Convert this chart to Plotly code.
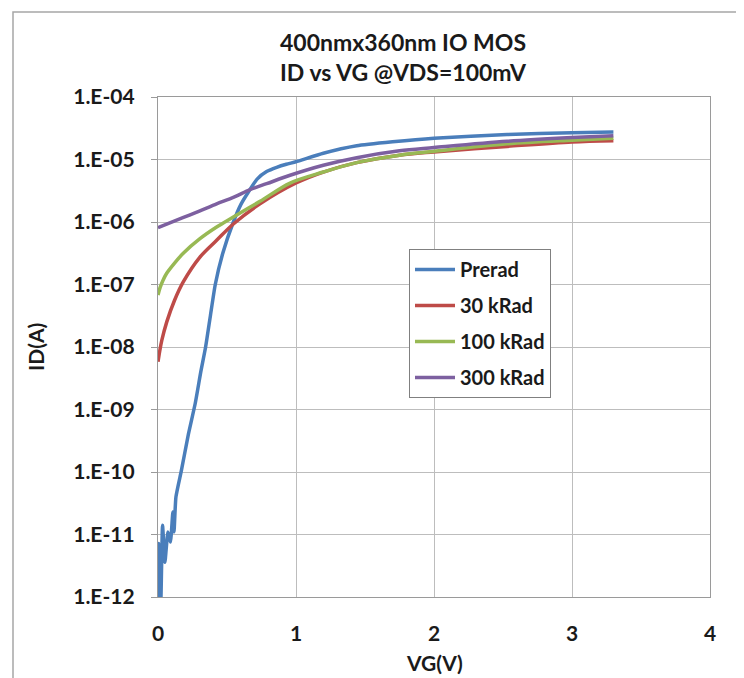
import plotly.graph_objects as go

# ---- data (VG in volts, ID in amps) ----
vg_prerad = [0.0, 0.005, 0.02, 0.033, 0.05, 0.072, 0.09, 0.108, 0.116, 0.13, 0.17, 0.22, 0.27,
             0.31, 0.345, 0.38, 0.415, 0.47, 0.546, 0.6, 0.654, 0.72, 0.787, 0.86, 0.93, 1.0,
             1.198, 1.44, 1.7, 2.0, 2.53, 3.0, 3.3]
id_prerad = [1.0e-12, 7.2e-12, 8.0e-13, 1.4e-11, 3.6e-12, 1.1e-11, 7.6e-12, 2.3e-11, 1.1e-11,
             4.0e-11, 1.07e-10, 4.0e-10, 1.26e-09, 4.0e-09, 1.0e-08, 3.2e-08, 1.0e-07, 3.2e-07,
             1.0e-06, 1.9e-06, 3.0e-06, 4.9e-06, 6.4e-06, 7.5e-06, 8.4e-06, 9.2e-06, 1.26e-05,
             1.66e-05, 1.92e-05, 2.19e-05, 2.51e-05, 2.69e-05, 2.75e-05]

vg_30k = [0.0, 0.012, 0.027, 0.063, 0.12, 0.183, 0.304, 0.425, 0.546, 0.739, 1.0, 1.198, 1.44,
          1.75, 2.0, 2.53, 3.0, 3.3]
id_30k = [5.8e-09, 8.5e-09, 1.26e-08, 2.5e-08, 5.6e-08, 1.1e-07, 2.75e-07, 5.1e-07, 9.3e-07,
          1.95e-06, 4.2e-06, 6.3e-06, 8.9e-06, 1.17e-05, 1.32e-05, 1.62e-05, 1.91e-05, 2.0e-05]

vg_100k = [0.0, 0.015, 0.035, 0.063, 0.12, 0.183, 0.304, 0.425, 0.546, 0.739, 0.957, 1.198,
           1.44, 1.75, 2.0, 2.53, 3.0, 3.3]
id_100k = [6.8e-08, 8.9e-08, 1.15e-07, 1.51e-07, 2.2e-07, 3.16e-07, 5.4e-07, 8.3e-07, 1.2e-06,
           2.14e-06, 4.2e-06, 6.3e-06, 8.9e-06, 1.17e-05, 1.35e-05, 1.78e-05, 2.04e-05, 2.19e-05]

vg_300k = [0.0, 0.18, 0.304, 0.425, 0.55, 0.667, 0.787, 0.957, 1.198, 1.44, 1.75, 2.0, 2.53,
           3.0, 3.3]
id_300k = [8.1e-07, 1.17e-06, 1.51e-06, 1.95e-06, 2.5e-06, 3.3e-06, 4.1e-06, 5.6e-06, 8.1e-06,
           1.07e-05, 1.38e-05, 1.55e-05, 1.95e-05, 2.24e-05, 2.4e-05]

series_names = ["Prerad", "30 kRad", "100 kRad", "300 kRad"]
series_colors = ["#4a7ebb", "#be4b48", "#98b954", "#7d60a0"]

y_tickvals = [1e-12, 1e-11, 1e-10, 1e-9, 1e-8, 1e-7, 1e-6, 1e-5, 1e-4]
y_ticktext = ["1.E-12", "1.E-11", "1.E-10", "1.E-09", "1.E-08", "1.E-07", "1.E-06", "1.E-05", "1.E-04"]
x_tickvals = [0, 1, 2, 3, 4]

FONT = "Lato"
TXT = "#1a1a1a"

# page body has an 8px margin; plot area target: x 158..710, y 97..597 (window px)
OFF = 8
W, H = 744 - OFF, 678 - OFF
PL, PT = 158 - OFF, 97 - OFF
PR, PB = W - (710 - OFF), H - (597 - OFF)
PW, PH = 710 - 158, 597 - 97


def px(xw):
    return (xw - 158) / PW


def py(yw):
    return (597 - yw) / PH


fig = go.Figure()
data = [(vg_prerad, id_prerad), (vg_30k, id_30k), (vg_100k, id_100k), (vg_300k, id_300k)]
for i, (xs, ys) in enumerate(data):
    fig.add_trace(go.Scatter(
        x=xs, y=ys, mode="lines", name=series_names[i],
        legendgroup=series_names[i],
        line=dict(color=series_colors[i], width=3.5, shape="spline",
                  smoothing=0.5 if i == 0 else 0.9),
    ))

fig.update_layout(
    width=W, height=H,
    margin=dict(l=PL, r=PR, t=PT, b=PB),
    paper_bgcolor="white", plot_bgcolor="white",
    font=dict(family=FONT, color=TXT),
    showlegend=True,
    legend=dict(
        x=px(409), y=py(249), xanchor="left", yanchor="top",
        bgcolor="white", bordercolor="#808080", borderwidth=1,
        font=dict(family=FONT, size=20, color=TXT, weight="bold"),
        tracegroupgap=7, itemwidth=40,
    ),
)

fig.update_xaxes(
    range=[0, 4], tickvals=x_tickvals, ticktext=[str(v) for v in x_tickvals],
    showgrid=True, gridcolor="#bdbdbd", gridwidth=1.3,
    showline=True, linecolor="#9a9a9a", linewidth=1.3, mirror=True,
    ticks="", ticklabelstandoff=18, zeroline=False,
    tickfont=dict(family=FONT, size=21, color=TXT, weight="bold"),
)
fig.update_yaxes(
    type="log", range=[-12, -4], tickvals=y_tickvals, ticktext=y_ticktext,
    showgrid=True, gridcolor="#bdbdbd", gridwidth=1.3,
    showline=True, linecolor="#9a9a9a", linewidth=1.3, mirror=True,
    ticks="outside", ticklen=6, tickcolor="#9a9a9a", ticklabelstandoff=12,
    tickfont=dict(family=FONT, size=21, color=TXT, weight="bold"),
)

# titles
fig.add_annotation(text="400nmx360nm IO MOS<br>ID vs VG @VDS=100mV",
                   xref="paper", yref="paper", x=px(403), y=py(57),
                   xanchor="center", yanchor="middle", showarrow=False,
                   font=dict(family=FONT, size=23, color=TXT, weight="bold"))
fig.add_annotation(text="ID(A)", xref="paper", yref="paper",
                   x=px(35), y=py(347), textangle=-90,
                   xanchor="center", yanchor="middle", showarrow=False,
                   font=dict(family=FONT, size=21, color=TXT, weight="bold"))
fig.add_annotation(text="VG(V)", xref="paper", yref="paper",
                   x=0.5, y=py(662),
                   xanchor="center", yanchor="middle", showarrow=False,
                   font=dict(family=FONT, size=21, color=TXT, weight="bold"))

# outer chart border
fig.add_shape(type="rect", xref="paper", yref="paper",
              x0=px(13), x1=px(737), y0=py(700), y1=py(12),
              line=dict(color="#a6a6a6", width=1.5), layer="below")

fig.write_html("out.html")
